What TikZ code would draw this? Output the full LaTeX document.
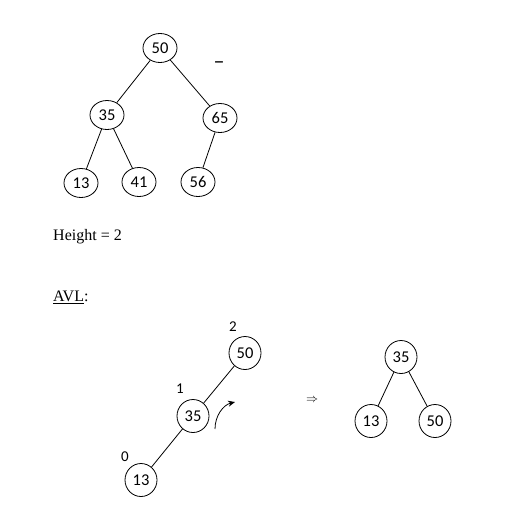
\documentclass[tikz,border=0pt]{standalone}
\usepackage{fontspec}
\setmainfont{Liberation Serif}
\newfontfamily\keyfont{Carlito}
\usetikzlibrary{shapes.geometric,arrows.meta}
\begin{document}
\begin{tikzpicture}[x=1pt,y=-1pt,
  keynode/.style={ellipse,draw,line width=0.8pt,inner sep=0pt,
    minimum width=34pt,minimum height=29pt,
    font=\keyfont\fontsize{16.5}{18}\selectfont},
  avlnode/.style={keynode,minimum width=32pt,minimum height=33pt},
  link/.style={line width=0.8pt},
  htlabel/.style={font=\keyfont\fontsize{15}{17}\selectfont,inner sep=0pt},
  prose/.style={font=\fontsize{16}{18}\selectfont,inner sep=0pt,anchor=west}]
\useasboundingbox (0,0) rectangle (516,514);

% binary search tree
\node[keynode] (t50) at (160,48) {50};
\node[keynode] (t35) at (107,115) {35};
\node[keynode] (t65) at (220,118) {65};
\node[keynode] (t13) at (81,183) {13};
\node[keynode] (t41) at (139,182) {41};
\node[keynode] (t56) at (198,182) {56};
\draw[link] (t50) -- (t35);
\draw[link] (t50) -- (t65);
\draw[link] (t35) -- (t13);
\draw[link] (t35) -- (t41);
\draw[link] (t65) -- (t56);
\node[font=\keyfont\fontsize{22}{24}\selectfont,inner sep=0pt] (dash) at (219,65) {–};

\node[prose] (height) at (53,237) {Height = 2};
\node[prose] (avl) at (53,297) {\underline{AVL}:};

% unbalanced chain with heights
\node[avlnode] (a50) at (245,353) {50};
\node[avlnode] (a35) at (193,416) {35};
\node[avlnode] (a13) at (141,480) {13};
\draw[link] (a50) -- (a35);
\draw[link] (a35) -- (a13);
\node[htlabel] (h2) at (233,327) {2};
\node[htlabel] (h1) at (180,389) {1};
\node[htlabel] (h0) at (125,457) {0};

% rotation arrow
\coordinate (rotA) at (215,429);
\coordinate (rotB) at (235,402);
\draw[line width=0.8pt,-{Stealth[length=7pt,width=6pt]}] (rotA) .. controls (215,416) and (223,405) .. (rotB);

\node[font=\fontsize{13}{15}\selectfont,inner sep=0pt] (implies) at (312,400) {$\Rightarrow$};

% balanced result
\node[avlnode] (b35) at (401,357) {35};
\node[avlnode] (b13) at (371,421) {13};
\node[avlnode] (b50) at (435,421) {50};
\draw[link] (b35) -- (b13);
\draw[link] (b35) -- (b50);
\end{tikzpicture}
\end{document}
